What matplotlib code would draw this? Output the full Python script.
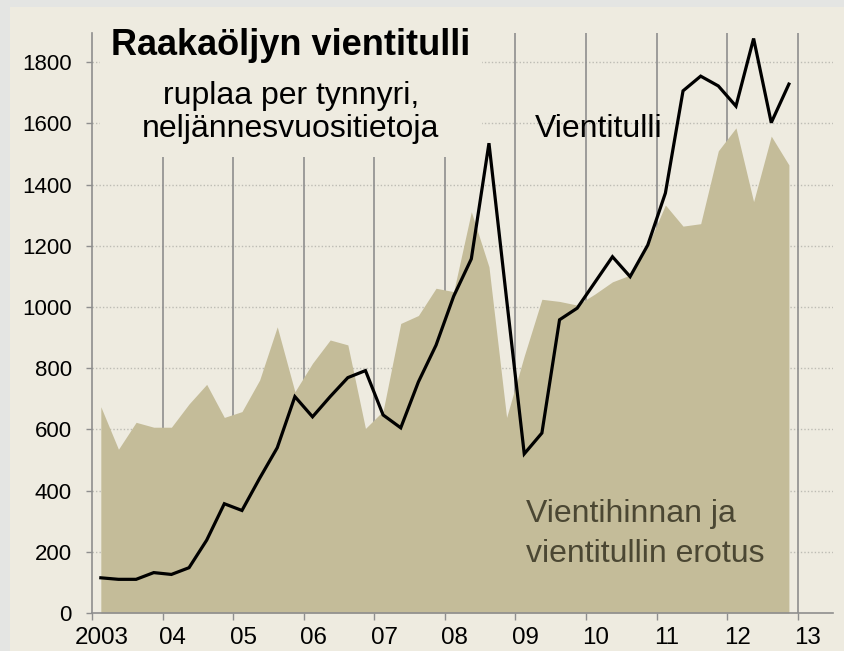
import matplotlib
matplotlib.use("Agg")
import matplotlib.pyplot as plt
from matplotlib.patches import Rectangle
from matplotlib.transforms import ScaledTranslation

plt.rcParams["font.family"] = ["Liberation Sans", "DejaVu Sans"]

# quarterly data 2003Q1 - 2012Q4, roubles per barrel
years = [y for y in range(2003, 2013) for _ in range(4)]
quarters = [1, 2, 3, 4] * 10
vientitulli = [
    115, 110, 110, 132,
    126, 148, 238, 357,
    335, 440, 540, 707,
    641, 707, 769, 792,
    647, 605, 755, 875,
    1035, 1157, 1535, 1025,
    520, 588, 958, 996,
    1080, 1164, 1099, 1202,
    1372, 1706, 1754, 1722,
    1656, 1877, 1602, 1728,
]
erotus = [
    674, 535, 623, 607,
    607, 683, 747, 639,
    658, 761, 935, 723,
    816, 892, 876, 603,
    660, 946, 972, 1061,
    1050, 1311, 1131, 639,
    840, 1025, 1018, 1006,
    1042, 1082, 1104, 1200,
    1333, 1264, 1272, 1510,
    1585, 1344, 1558, 1464,
]
tick_years = list(range(2003, 2014))
tick_labels = ["2003", "04", "05", "06", "07", "08", "09", "10", "11", "12", "13"]
y_ticks = [0, 200, 400, 600, 800, 1000, 1200, 1400, 1600, 1800]

BG = "#EEEBE0"
AREA = "#C4BC99"
GRID = "#8E8E8E"

x = [y + (q - 0.5) / 4 for y, q in zip(years, quarters)]

fig = plt.figure(figsize=(8.44, 6.51), dpi=100, facecolor="#E4E5E3")
fig.add_artist(Rectangle((10 / 844, 0), 1, (651 - 7) / 651, transform=fig.transFigure,
                         facecolor=BG, edgecolor="none", zorder=-10))
ax = fig.add_axes([92 / 844, 38 / 651, 741 / 844, 580 / 651])
ax.set_facecolor(BG)

ax.fill_between(x, 0, erotus, color=AREA, linewidth=0, zorder=2)
ax.plot(x, vientitulli, color="black", lw=2.3, zorder=3, solid_joinstyle="miter")

ax.set_xlim(2003, 2013.5)
ax.set_ylim(0, 1895)

for yt in y_ticks[1:]:
    ax.axhline(yt, color="#BDBCB4", lw=1.0, ls=(0, (1, 1.5)), zorder=1)
for yr in tick_years[1:]:
    ax.axvline(yr, color=GRID, lw=1.2, zorder=1)

# background box behind the title
ax.add_patch(Rectangle((8 / 741, (613 - 157) / 580), (482 - 100) / 741, 1, transform=ax.transAxes,
                       facecolor=BG, edgecolor="none", zorder=1.5))

for side in ["top", "right"]:
    ax.spines[side].set_visible(False)
for side in ["left", "bottom"]:
    ax.spines[side].set_color(GRID)
    ax.spines[side].set_linewidth(1.2)

ax.set_yticks(y_ticks)
ax.set_xticks(tick_years)
ax.set_xticklabels(tick_labels)
ax.tick_params(axis="y", labelsize=16, length=4.5, width=1.0, color=GRID, pad=10)
ax.tick_params(axis="x", labelsize=17.4, length=5, width=1.0, color=GRID, pad=5)
for lab in ax.get_xticklabels():
    lab.set_transform(lab.get_transform() + ScaledTranslation(0.10, 0, fig.dpi_scale_trans))

fig.text(291 / 844, (651 - 55) / 651, "Raakaöljyn vientitulli", ha="center", va="baseline",
         fontsize=26, fontweight="bold")
fig.text(291 / 844, (651 - 104) / 651, "ruplaa per tynnyri,", ha="center", va="baseline", fontsize=23)
fig.text(291 / 844, (651 - 137) / 651, "neljännesvuositietoja", ha="center", va="baseline", fontsize=23)
fig.text(535 / 844, (651 - 137) / 651, "Vientitulli", ha="left", va="baseline", fontsize=23)
fig.text(526 / 844, (651 - 522) / 651, "Vientihinnan ja", ha="left", va="baseline", fontsize=23,
         color="#4B4733")
fig.text(526 / 844, (651 - 562) / 651, "vientitullin erotus", ha="left", va="baseline", fontsize=23,
         color="#4B4733")

fig.savefig("out.png", dpi=100, facecolor=fig.get_facecolor())
